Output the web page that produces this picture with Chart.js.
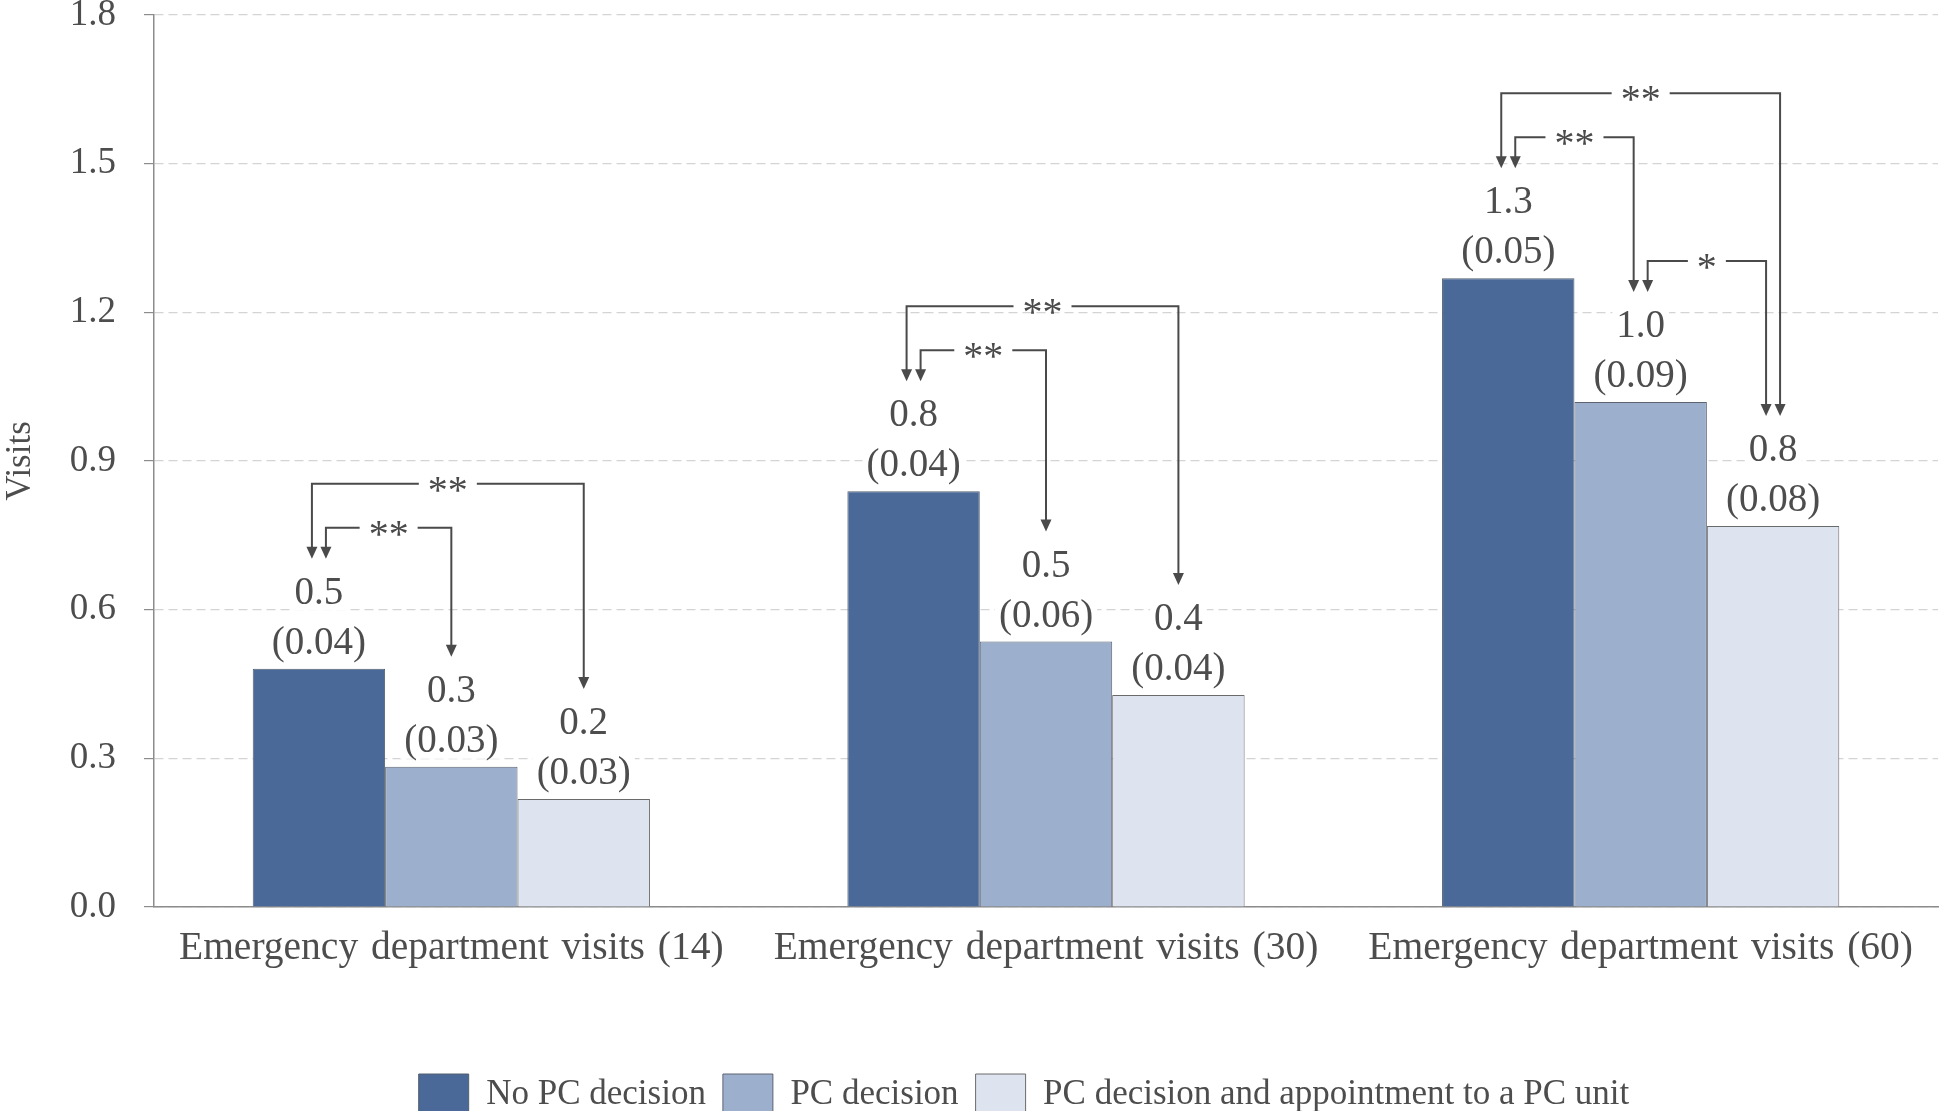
<!DOCTYPE html>
<html>
<head>
<meta charset="utf-8">
<script src="https://cdn.jsdelivr.net/npm/chart.js@4"></script>
<style>
html, body { margin: 0; padding: 0; background: #fff; }
</style>
</head>
<body>
<canvas id="chart" width="1946" height="1111"></canvas>
<script>
// datos
var categories = ['Emergency department visits (14)', 'Emergency department visits (30)', 'Emergency department visits (60)'];
var seriesNames = ['No PC decision', 'PC decision', 'PC decision and appointment to a PC unit'];
var noPcDecision = [0.481, 0.839, 1.269];
var pcDecision = [0.283, 0.536, 1.019];
var pcAppointment = [0.218, 0.428, 0.769];
var seNoPc = [0.04, 0.04, 0.05];
var sePc = [0.03, 0.06, 0.09];
var seAppointment = [0.03, 0.04, 0.08];
var yTicks = [0, 0.3, 0.6, 0.9, 1.2, 1.5, 1.8];
// comparaciones: [grupo, barra origen, barra destino, etiqueta, nivel]
var comparisons = [
    [0, 0, 2, '**', 2], [0, 0, 1, '**', 1],
    [1, 0, 2, '**', 2], [1, 0, 1, '**', 1],
    [2, 0, 2, '**', 2], [2, 0, 1, '**', 1], [2, 1, 2, '*', 1]
];

var textColor = '#4d4d4d';
var serif = '"Liberation Serif", "Times New Roman", serif';
Chart.defaults.font.family = serif;
Chart.defaults.color = textColor;

// etiquetas de valor y error estándar encima de cada barra
var valueLabels = {
    id: 'valueLabels',
    afterDatasetsDraw: function(chart) {
        var ctx = chart.ctx;
        var seList = [seNoPc, sePc, seAppointment];
        ctx.save();
        ctx.font = '39px ' + serif;
        ctx.textAlign = 'center';
        ctx.textBaseline = 'middle';
        chart.data.datasets.forEach(function(ds, d) {
            chart.getDatasetMeta(d).data.forEach(function(bar, i) {
                var lines = [ds.data[i].toFixed(1), '(' + seList[d][i].toFixed(2) + ')'];
                var ys = [bar.y - 75, bar.y - 25];
                lines.forEach(function(t, k) {
                    var w = ctx.measureText(t).width;
                    ctx.fillStyle = '#fff';
                    ctx.fillRect(bar.x - w / 2 - 4, ys[k] - 17, w + 8, 34);
                    ctx.fillStyle = textColor;
                    ctx.fillText(t, bar.x, ys[k]);
                });
            });
        });
        ctx.restore();
    }
};

// flechas de significancia entre barras
var brackets = {
    id: 'brackets',
    afterDatasetsDraw: function(chart) {
        var ctx = chart.ctx;
        var barAt = function(g, b) { return chart.getDatasetMeta(b).data[g]; };
        var ends = {};
        comparisons.forEach(function(c, idx) {
            [[c[1], c[2]], [c[2], c[1]]].forEach(function(p) {
                var key = c[0] + '-' + p[0];
                (ends[key] = ends[key] || []).push({ idx: idx, dir: 1 / (p[1] - p[0]) });
            });
        });
        var offsetOf = {};
        Object.keys(ends).forEach(function(key) {
            var list = ends[key].sort(function(a, b) { return a.dir - b.dir; });
            list.forEach(function(e, j) {
                offsetOf[e.idx + ':' + key] = (j - (list.length - 1) / 2) * 14;
            });
        });
        var arrow = function(x, tip) {
            ctx.beginPath();
            ctx.moveTo(x, tip);
            ctx.lineTo(x - 5.5, tip - 12);
            ctx.lineTo(x + 5.5, tip - 12);
            ctx.closePath();
            ctx.fill();
        };
        ctx.save();
        ctx.strokeStyle = '#4a4a4a';
        ctx.fillStyle = '#4a4a4a';
        ctx.lineWidth = 2;
        ctx.font = '40px ' + serif;
        ctx.textAlign = 'center';
        ctx.textBaseline = 'alphabetic';
        comparisons.forEach(function(c, idx) {
            var a = barAt(c[0], c[1]), b = barAt(c[0], c[2]);
            var xa = a.x + offsetOf[idx + ':' + c[0] + '-' + c[1]];
            var xb = b.x + offsetOf[idx + ':' + c[0] + '-' + c[2]];
            var yLine = Math.min(a.y, b.y) - (c[4] === 2 ? 185 : 141);
            var tipA = a.y - 110, tipB = b.y - 110;
            var mid = (xa + xb) / 2;
            var gap = ctx.measureText(c[3]).width / 2 + 9;
            ctx.beginPath();
            ctx.moveTo(xa, tipA - 10);
            ctx.lineTo(xa, yLine);
            ctx.lineTo(mid - gap, yLine);
            ctx.moveTo(mid + gap, yLine);
            ctx.lineTo(xb, yLine);
            ctx.lineTo(xb, tipB - 10);
            ctx.stroke();
            arrow(xa, tipA);
            arrow(xb, tipB);
            ctx.fillText(c[3], mid, yLine + 19);
        });
        ctx.restore();
    }
};

// espaciado de palabras de las etiquetas del eje x y posición de la leyenda
var tweaks = {
    id: 'tweaks',
    afterLayout: function(chart) {
        chart.legend.left += 55;
        chart.legend.right += 55;
    },
    beforeDraw: function(chart) {
        var xs = chart.scales.x;
        if (!xs._spaced) {
            var orig = xs.drawLabels;
            xs.drawLabels = function(area) {
                var c = this.ctx;
                c.save();
                c.wordSpacing = '3px';
                orig.call(this, area);
                c.restore();
            };
            xs._spaced = true;
        }
    }
};

var ctx = document.getElementById('chart').getContext('2d');
var myChart = new Chart(ctx, {
    type: 'bar',
    data: {
        labels: categories,
        datasets: [{
            label: seriesNames[0],
            data: noPcDecision,
            backgroundColor: '#4a6898',
            borderColor: '#55606e',
            borderWidth: 1
        }, {
            label: seriesNames[1],
            data: pcDecision,
            backgroundColor: '#9cafcd',
            borderColor: '#5e6470',
            borderWidth: 1
        }, {
            label: seriesNames[2],
            data: pcAppointment,
            backgroundColor: '#dde4ef',
            borderColor: '#6a6a6a',
            borderWidth: 1
        }]
    },
    options: {
        responsive: false,
        animation: false,
        categoryPercentage: 0.668,
        barPercentage: 1,
        layout: {
            padding: { top: 0, right: 8, left: 0, bottom: -14 }
        },
        plugins: {
            tooltip: { enabled: false },
            legend: {
                position: 'bottom',
                labels: {
                    boxWidth: 50,
                    boxHeight: 41,
                    padding: 17,
                    color: textColor,
                    font: { size: 35 }
                }
            }
        },
        scales: {
            x: {
                grid: { display: false, drawTicks: false },
                border: { display: true, color: '#8c8c8c', width: 1.5 },
                ticks: { padding: 18, maxRotation: 0, color: textColor, font: { size: 39.5 } },
                afterFit: function(scale) {
                    scale.height = 1111 + 14 - 907 - scale.chart.legend.height;
                }
            },
            y: {
                min: 0,
                max: 1.8,
                afterBuildTicks: function(scale) {
                    scale.ticks = yTicks.map(function(v) { return { value: v }; });
                },
                grid: {
                    color: '#d4d4d4',
                    lineWidth: 1.2,
                    tickColor: '#8c8c8c',
                    tickLength: 10,
                    tickBorderDash: []
                },
                border: { display: true, color: '#8c8c8c', width: 1.5, dash: [9, 5] },
                ticks: {
                    padding: 28,
                    color: textColor,
                    font: { size: 37 },
                    callback: function(v) { return Number(v).toFixed(1); }
                },
                title: {
                    display: true,
                    text: 'Visits',
                    color: textColor,
                    font: { size: 35 },
                    padding: { top: 0, bottom: 0 }
                },
                afterFit: function(scale) {
                    scale.width = 154;
                    scale.paddingTop = 15;
                    scale.paddingBottom = 0;
                }
            }
        }
    },
    plugins: [valueLabels, brackets, tweaks]
});
</script>
</body>
</html>
